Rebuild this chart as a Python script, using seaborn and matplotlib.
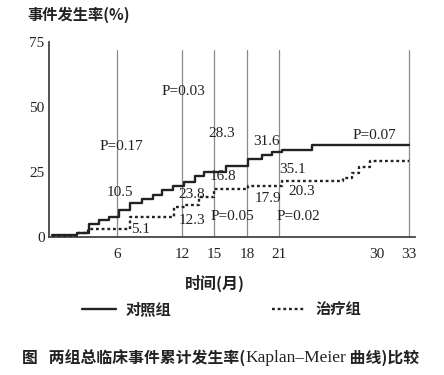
import pandas as pd
import seaborn as sns
import matplotlib.pyplot as plt

# control group (solid) - step change points, month / cumulative rate %
control_month = [0, 2.3, 3.4, 4.3, 5.3, 6.2, 7.2, 8.3, 9.3, 10.2, 11.2, 12.2,
                 13.2, 14.0, 16.1, 18.1, 19.4, 20.3, 21.2, 24.0, 33]
control_rate = [0.8, 1.7, 5.0, 6.5, 7.8, 10.4, 13.2, 14.5, 16.2, 18.1, 19.6, 21.3,
                23.5, 25.1, 27.3, 29.9, 31.5, 32.6, 33.5, 35.4, 35.4]

# treatment group (dotted)
treat_month = [0, 2.4, 3.3, 7.2, 11.3, 12.3, 13.6, 15.0, 18.1, 21.2,
               26.9, 27.7, 28.4, 29.4, 33]
treat_rate = [0.4, 1.5, 3.1, 7.8, 11.4, 12.3, 15.4, 18.5, 19.6, 21.5,
              22.8, 24.5, 27.0, 29.3, 29.3]

vlines = [6, 12, 15, 18, 21, 33]
xtick_labels = [6, 12, 15, 18, 21, 30, 33]
ytick_labels = [0, 25, 50, 75]

# annotations: text, month, rate
notes = [
    ("P=0.17", 6.4, 35.0), ("P=0.03", 12.1, 55.9), ("P=0.07", 29.8, 39.2),
    ("P=0.05", 16.7, 7.8), ("P=0.02", 22.8, 7.8),
    ("10.5", 6.3, 17.0), ("5.1", 8.2, 2.7), ("23.8", 12.9, 16.5), ("12.3", 12.9, 6.3),
    ("28.3", 15.7, 39.9), ("16.8", 15.8, 23.2), ("31.6", 19.8, 36.7), ("17.9", 19.9, 14.9),
    ("35.1", 22.2, 26.0), ("20.3", 23.1, 17.4),
]

sns.set_style('white')
plt.rcParams['font.family'] = ['Liberation Serif', 'Noto Sans CJK SC']
cjk = ['Noto Sans CJK SC', 'DejaVu Sans']
ink = '#222222'

df_c = pd.DataFrame({'month': control_month, 'rate': control_rate})
df_t = pd.DataFrame({'month': treat_month, 'rate': treat_rate})

fig = plt.figure(figsize=(4.44, 3.75), dpi=100)
ax = fig.add_axes([0.110, 0.368, 0.824, 0.520])

for v in vlines:
    ax.plot([v, v], [0, 72], color='#8a8a8a', lw=0.9, zorder=1)

sns.lineplot(data=df_c, x='month', y='rate', ax=ax, color=ink, lw=1.7,
             drawstyle='steps-post', estimator=None, label='对照组', zorder=3)
sns.lineplot(data=df_t, x='month', y='rate', ax=ax, color=ink, lw=1.7,
             drawstyle='steps-post', estimator=None, label='治疗组',
             linestyle=(0, (1.2, 1.2)), zorder=3)

for txt, mx, ry in notes:
    ax.text(mx, ry, txt, ha='center', va='center', fontsize=11, color=ink,
            family='Liberation Serif', zorder=4)

ax.set_xlim(-0.3, 33.5)
ax.set_ylim(0, 75)
ax.set_xticks(xtick_labels)
ax.set_xticklabels([str(t) for t in xtick_labels])
ax.set_xticks([10, 20, 30], minor=True)
ax.tick_params(axis='x', which='major', length=0, pad=8, labelsize=11, labelcolor=ink)
ax.tick_params(axis='x', which='minor', direction='in', length=6, width=1, color='#444444')
ax.set_yticks(ytick_labels)
ax.tick_params(axis='y', which='major', direction='out', length=3, width=1,
               pad=0, labelsize=11, labelcolor=ink, color='#444444')
ax.set_xlabel('')
ax.set_ylabel('')
sns.despine(ax=ax)
for s in ['left', 'bottom']:
    ax.spines[s].set_color('#444444')
    ax.spines[s].set_linewidth(1.3)

handles, labels = ax.get_legend_handles_labels()
ax.get_legend().remove()
fig.legend(handles, labels, loc='center', bbox_to_anchor=(0.50, 0.176), ncol=2,
           frameon=False, handlelength=2.2, handletextpad=0.65, columnspacing=6.6,
           prop={'family': cjk, 'size': 11, 'weight': 'bold'}, labelcolor=ink)

fig.text(0.061, 0.960, '事件发生率(%)', family=cjk, fontsize=11, weight='bold',
         color=ink, ha='left', va='center')
fig.text(0.484, 0.245, '时间(月)', family=cjk, fontsize=11.5, weight='bold',
         color=ink, ha='center', va='center')

# caption: CJK parts bold sans, the Latin name in serif
caption_parts = [('图   两组总临床事件累计发生率(', cjk, 'bold', 11.4),
                 ('Kaplan–Meier', ['Liberation Serif'], 'normal', 12.5),
                 (' 曲线)比较', cjk, 'bold', 11.4)]
renderer = fig.canvas.get_renderer()
x = 22
for txt, fam, wt, size in caption_parts:
    t = fig.text(x / 444, 0.045, txt, family=fam, fontsize=size, weight=wt,
                 color=ink, ha='left', va='center')
    x = t.get_window_extent(renderer).x1

fig.savefig('out.png', dpi=100)
